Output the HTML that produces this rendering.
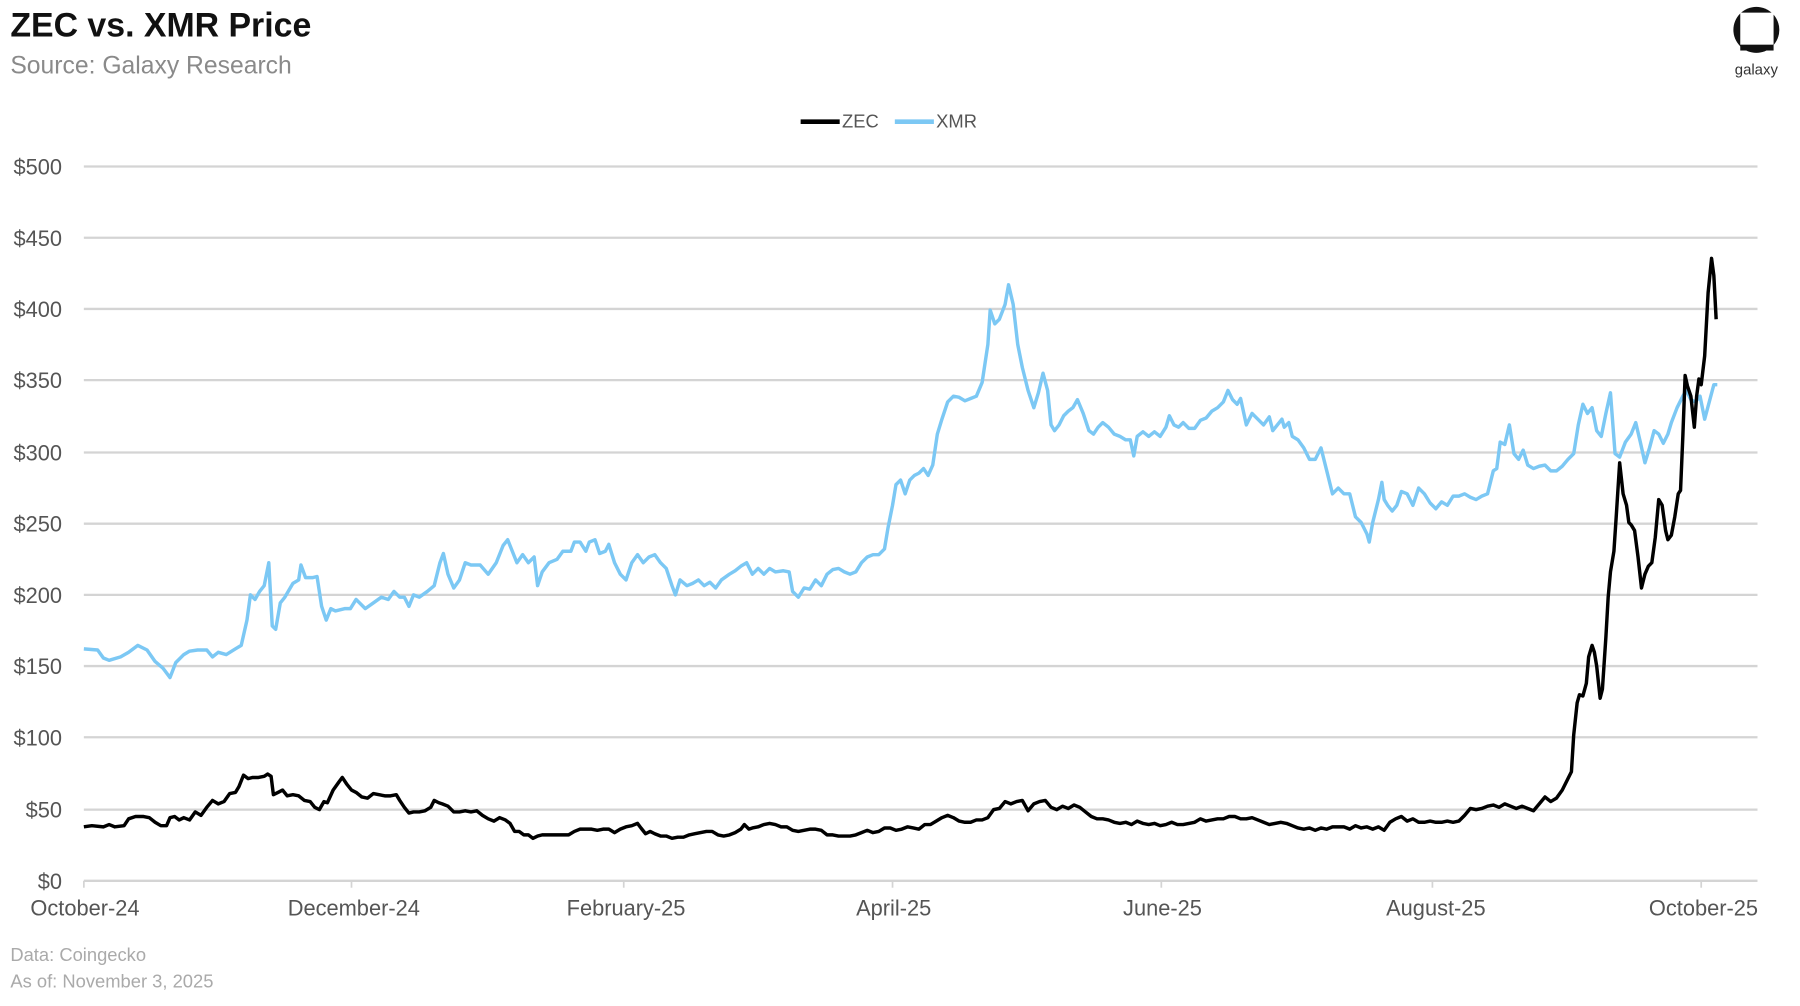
<!DOCTYPE html>
<html><head><meta charset="utf-8"><style>
html,body{margin:0;padding:0;background:#fff;}
svg{display:block;}
text{font-family:"Liberation Sans",sans-serif;}
</style></head><body>
<svg width="1800" height="1006" viewBox="0 0 1567 876" xmlns="http://www.w3.org/2000/svg" preserveAspectRatio="none">
<rect width="1567" height="876" fill="#fff"/>
<text x="9" y="32" font-size="30" font-weight="bold" fill="#111" textLength="262" lengthAdjust="spacingAndGlyphs">ZEC vs. XMR Price</text>
<text x="9" y="64" font-size="22" fill="#8a8a8a" textLength="245" lengthAdjust="spacingAndGlyphs">Source: Galaxy Research</text>
<circle cx="1529" cy="26" r="20" fill="#111"/>
<rect x="1515" y="11" width="29" height="28" fill="#fff"/>
<rect x="1515" y="39" width="29" height="5" fill="#111"/>
<text x="1529" y="65" font-size="13" fill="#333" text-anchor="middle">galaxy</text>
<line x1="697" y1="106" x2="731" y2="106" stroke="#000" stroke-width="4"/>
<text x="733" y="111" font-size="16" fill="#555">ZEC</text>
<line x1="779" y1="106" x2="813" y2="106" stroke="#7cc8f4" stroke-width="4"/>
<text x="815" y="111" font-size="16" fill="#555">XMR</text>
<g stroke="#d4d4d4" stroke-width="2">
<line x1="73" y1="145" x2="1530" y2="145"/>
<line x1="73" y1="207" x2="1530" y2="207"/>
<line x1="73" y1="269" x2="1530" y2="269"/>
<line x1="73" y1="331" x2="1530" y2="331"/>
<line x1="73" y1="394" x2="1530" y2="394"/>
<line x1="73" y1="456" x2="1530" y2="456"/>
<line x1="73" y1="518" x2="1530" y2="518"/>
<line x1="73" y1="580" x2="1530" y2="580"/>
<line x1="73" y1="642" x2="1530" y2="642"/>
<line x1="73" y1="705" x2="1530" y2="705"/>
<line x1="73" y1="767" x2="1530" y2="767"/>
</g>
<g stroke="#d4d4d4" stroke-width="1.5">
<line x1="73" y1="767" x2="73" y2="773"/><line x1="306" y1="767" x2="306" y2="773"/><line x1="543" y1="767" x2="543" y2="773"/><line x1="777" y1="767" x2="777" y2="773"/><line x1="1011" y1="767" x2="1011" y2="773"/><line x1="1247" y1="767" x2="1247" y2="773"/><line x1="1481" y1="767" x2="1481" y2="773"/>
</g>
<g font-size="19" fill="#555" text-anchor="end">
<text x="54" y="152">$500</text><text x="54" y="214">$450</text><text x="54" y="276">$400</text><text x="54" y="338">$350</text><text x="54" y="401">$300</text><text x="54" y="463">$250</text><text x="54" y="525">$200</text><text x="54" y="587">$150</text><text x="54" y="649">$100</text><text x="54" y="712">$50</text><text x="54" y="774">$0</text>
</g>
<g font-size="19" fill="#555" text-anchor="middle">
<text x="74" y="797">October-24</text><text x="308" y="797">December-24</text><text x="545" y="797">February-25</text><text x="778" y="797">April-25</text><text x="1012" y="797">June-25</text><text x="1250" y="797">August-25</text><text x="1483" y="797">October-25</text>
</g>
<text x="9" y="837" font-size="16" fill="#aaa">Data: Coingecko</text>
<text x="9" y="860" font-size="16" fill="#aaa">As of: November 3, 2025</text>
<polyline fill="none" stroke="#7cc8f4" stroke-width="3" stroke-linejoin="round" points="73,565 85,566 90,573 95,575 105,572 112,568 120,562 128,566 135,576 142,582 148,590 153,577 160,570 165,567 172,566 180,566 185,572 190,568 197,570 205,565 210,562 215,540 218,518 222,522 226,515 230,510 234,490 237,545 240,548 244,525 248,520 255,508 260,505 262,492 266,503 272,503 276,502 280,528 284,540 288,530 292,532 300,530 305,530 310,522 318,530 325,525 332,520 338,522 343,515 348,520 352,520 356,528 360,518 365,520 372,515 378,510 383,490 386,482 390,500 395,512 400,505 405,490 410,492 418,492 425,500 432,490 438,475 442,470 446,480 450,490 455,483 460,490 465,485 468,510 472,498 478,490 485,487 490,480 497,480 500,472 505,472 510,480 513,472 518,470 522,482 527,480 530,474 535,490 540,500 545,505 550,490 555,483 560,490 565,485 570,483 575,490 580,495 585,510 588,518 592,505 598,510 603,508 608,505 613,510 618,507 623,512 628,505 635,500 640,497 645,493 650,490 655,500 660,495 665,500 670,495 675,498 682,497 687,498 690,515 695,520 700,512 705,513 710,505 715,510 720,500 725,496 730,495 735,498 740,500 745,498 750,490 755,485 760,483 765,483 770,478 773,460 777,440 780,422 784,418 788,430 792,418 796,414 800,412 804,408 808,414 812,405 816,378 820,365 825,350 830,345 835,346 840,349 845,347 850,345 855,333 860,300 862,270 866,282 870,278 875,265 878,248 882,265 886,300 890,320 895,340 900,355 904,342 908,325 912,340 915,370 918,375 922,370 926,362 930,358 934,355 938,348 943,360 948,375 952,378 956,372 960,368 965,372 970,378 975,380 980,383 984,383 987,397 990,380 995,376 1000,380 1005,376 1010,380 1015,372 1018,362 1022,370 1026,372 1030,368 1035,373 1040,373 1045,366 1050,364 1055,358 1060,355 1065,350 1069,340 1073,348 1077,352 1080,347 1085,370 1090,360 1095,365 1100,370 1105,363 1108,375 1112,370 1116,365 1118,372 1122,368 1125,380 1130,383 1135,390 1140,400 1145,400 1150,390 1155,410 1160,430 1165,425 1170,430 1175,430 1180,450 1185,455 1190,465 1192,472 1195,455 1200,435 1203,420 1205,435 1208,440 1212,445 1216,440 1220,428 1225,430 1230,440 1235,425 1240,430 1245,438 1250,443 1255,437 1260,440 1265,432 1270,432 1275,430 1280,433 1285,435 1290,432 1295,430 1300,410 1303,408 1306,385 1310,387 1314,370 1318,395 1322,400 1326,392 1330,405 1335,408 1340,406 1345,405 1350,410 1355,410 1360,406 1365,400 1370,395 1374,370 1378,352 1382,360 1386,355 1390,375 1394,380 1398,360 1402,342 1406,395 1410,398 1415,385 1420,378 1424,368 1428,385 1432,403 1436,390 1440,375 1444,378 1448,386 1452,378 1455,368 1460,355 1465,345 1468,340 1472,348 1476,350 1480,345 1484,365 1488,350 1492,335 1495,335"/>
<polyline fill="none" stroke="#000" stroke-width="3" stroke-linejoin="round" points="73,720 80,719 90,720 95,718 100,720 108,719 112,713 118,711 125,711 130,712 135,716 140,719 145,719 148,712 152,711 156,714 160,712 165,714 170,707 175,710 180,703 185,697 190,700 195,698 200,691 205,690 208,685 212,675 216,678 220,677 225,677 230,676 233,674 236,676 238,692 242,690 246,688 250,693 255,692 260,693 265,697 270,698 274,703 278,705 282,698 285,699 290,688 295,681 298,677 302,683 306,688 310,690 315,694 320,695 325,691 330,692 335,693 340,693 345,692 348,697 352,703 356,708 360,707 365,707 370,706 375,703 378,697 382,699 385,700 390,702 395,707 400,707 405,706 410,707 415,706 420,710 425,713 430,715 435,712 440,714 444,717 448,724 452,724 456,727 460,727 464,730 468,728 472,727 476,727 480,727 485,727 490,727 495,727 500,724 505,722 510,722 515,722 520,723 525,722 530,722 535,725 540,722 545,720 550,719 555,717 558,721 562,726 566,724 570,726 575,728 580,728 585,730 590,729 595,729 600,727 605,726 610,725 615,724 620,724 625,727 630,728 635,727 640,725 645,722 648,718 652,722 655,721 660,720 665,718 670,717 675,718 680,720 685,720 690,723 695,724 700,723 705,722 710,722 715,723 720,727 725,727 730,728 735,728 740,728 745,727 750,725 755,723 760,725 765,724 770,721 775,721 780,723 785,722 790,720 795,721 800,722 805,718 810,718 815,715 820,712 825,710 830,712 835,715 840,716 845,716 850,714 855,714 860,712 865,705 870,704 875,698 880,700 885,698 890,697 895,706 900,700 905,698 910,697 915,703 920,705 925,702 930,704 935,701 940,703 945,707 950,711 955,713 960,713 965,714 970,716 975,717 980,716 985,718 990,715 995,717 1000,718 1005,717 1010,719 1015,718 1020,716 1025,718 1030,718 1035,717 1040,716 1045,713 1050,715 1055,714 1060,713 1065,713 1070,711 1075,711 1080,713 1085,713 1090,712 1095,714 1100,716 1105,718 1110,717 1115,716 1120,717 1125,719 1130,721 1135,722 1140,721 1145,723 1150,721 1155,722 1160,720 1165,720 1170,720 1175,722 1180,719 1185,721 1190,720 1195,722 1200,720 1205,723 1210,716 1215,713 1220,711 1225,715 1230,713 1235,716 1240,716 1245,715 1250,716 1255,716 1260,715 1265,716 1270,715 1275,710 1280,704 1285,705 1290,704 1295,702 1300,701 1305,703 1310,700 1315,702 1320,704 1325,702 1330,704 1335,706 1340,700 1345,694 1350,698 1355,695 1360,688 1365,678 1368,672 1370,640 1373,612 1375,605 1378,606 1381,595 1383,572 1386,562 1388,568 1390,580 1393,608 1395,600 1398,555 1400,520 1402,498 1405,480 1407,450 1410,403 1413,430 1416,440 1418,455 1420,457 1423,462 1426,485 1429,512 1432,500 1435,493 1438,490 1441,468 1444,435 1447,440 1450,462 1452,470 1455,466 1458,450 1461,430 1463,427 1465,380 1467,327 1469,336 1472,345 1475,372 1477,345 1479,330 1481,335 1484,310 1487,255 1490,225 1492,240 1494,278"/>
</svg>
</body></html>
